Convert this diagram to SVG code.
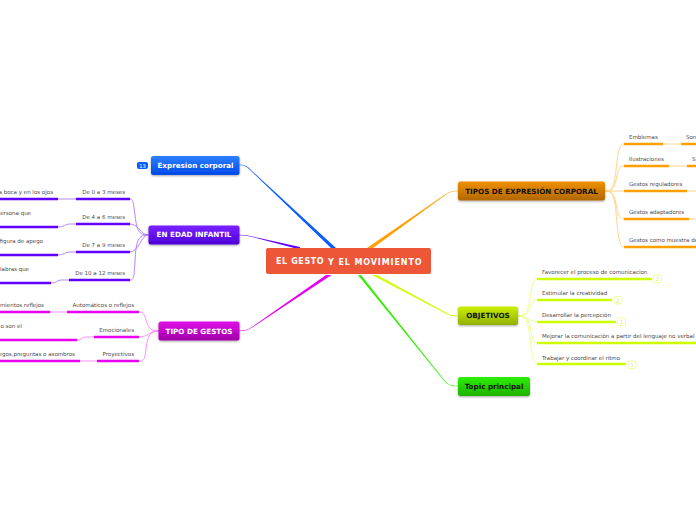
<svg xmlns="http://www.w3.org/2000/svg" width="696" height="520" viewBox="0 0 696 520">
<style>
text{font-family:"DejaVu Sans","Liberation Sans",sans-serif}
.t{font-size:5.5px;fill:#4a4a4a}
.n{font-size:7.2px;font-weight:700;text-anchor:middle}
.m{font-size:8px;font-weight:700;fill:#fff;letter-spacing:.6px}
.w{fill:#fff}.k{fill:#111}
.c{fill:none;stroke-width:.9;stroke-linecap:round}
.u{fill:none;stroke-width:2.6}
.pur{stroke:#6000ff}.mag{stroke:#e800f0}.ora{stroke:#ff9f00}.lim{stroke:#ccff00}
.lp{stroke:#a878ff}.lm{stroke:#ff80ff}.lo{stroke:#ffcf80}.ll{stroke:#e6ff80}
.b{fill:#fff;stroke:#eaff90;stroke-width:1}
.bt{font-size:5.5px;fill:#d8e870;text-anchor:middle}
</style>
<defs>
<linearGradient id="gb" x1="0" y1="0" x2="0" y2="1"><stop offset="0" stop-color="#2c80ff"/><stop offset="1" stop-color="#0049e8"/></linearGradient>
<linearGradient id="gp" x1="0" y1="0" x2="0" y2="1"><stop offset="0" stop-color="#7a22ff"/><stop offset="1" stop-color="#4d00d8"/></linearGradient>
<linearGradient id="gm" x1="0" y1="0" x2="0" y2="1"><stop offset="0" stop-color="#e010e8"/><stop offset="1" stop-color="#a000a8"/></linearGradient>
<linearGradient id="go" x1="0" y1="0" x2="0" y2="1"><stop offset="0" stop-color="#f09000"/><stop offset="1" stop-color="#b06800"/></linearGradient>
<linearGradient id="gl" x1="0" y1="0" x2="0" y2="1"><stop offset="0" stop-color="#ccf000"/><stop offset="1" stop-color="#90b000"/></linearGradient>
<linearGradient id="gg" x1="0" y1="0" x2="0" y2="1"><stop offset="0" stop-color="#2cf000"/><stop offset="1" stop-color="#20b000"/></linearGradient>
<filter id="s" x="-10%" y="-20%" width="120%" height="150%"><feDropShadow dx="0" dy="1" stdDeviation="0.8" flood-color="#000" flood-opacity=".35"/></filter>
</defs>
<g id="connectors">
<path fill="#0b5cff" d="M239 164.800C246 164.800 247 166 252 171L336 248H331L251.600 171.500C247 167 246 165.200 239 165.200Z"/>
<path fill="#6000ff" d="M239 234.800C246 234.800 250 236 258 237.800L300 247V248.500H296L258 238.400C250 236.500 246 235.200 239 235.200Z"/>
<path fill="#e800f0" d="M239 330.800C246 330.800 249 329 254 325.600L326 275H331.500L254.500 326C249 329.600 246 331.200 239 331.200Z"/>
<path fill="#ff9f00" d="M458 190.800C451 190.800 449 192 445 194.600L367 248H373L445.400 195C449 192.400 451 191.200 458 191.200Z"/>
<path fill="#ccff00" d="M458 315.700C451 315.700 449 314.300 445 312.100L377 275H372L444.600 312.900C449 315.200 451 316.300 458 316.300Z"/>
<path fill="#33ee00" d="M458 385.800C451 385.800 449 385 445 381L361 275H358L444.500 381.400C449 385.600 451 386.200 458 386.200Z"/>

<path class="c lp" d="M148 235C140 235 137 233 135 215C133 200 133 199 130 199"/>
<path class="c lp" d="M148 235C141 235 139 224 130 224"/>
<path class="c lp" d="M148 235C141 235 139 252 130 252"/>
<path class="c lp" d="M148 235C138 235 136 240 135 262C134 280 133 280 130 280"/>
<path class="c lp" d="M76 199H58"/>
<path class="c lp" d="M76 224H70C65 224 64 227 58 227"/>
<path class="c lp" d="M76 252H70C65 252 64 255 58 255"/>
<path class="c lp" d="M69 280H62C57 280 57 283 51 283"/>
<path class="u pur" d="M76 199H130M76 224H130M76 252H130M69 280H130M0 199H58M0 227H58M0 255H58M0 283H51"/>

<path class="c lm" d="M158 331C150 331 148 327 146 320C144 313 143 312 139 312"/>
<path class="c lm" d="M158 331C150 331 148 337 139 337"/>
<path class="c lm" d="M158 331C150 331 148 336 146 348C145 361 143 361 139 361"/>
<path class="c lm" d="M67 312H50"/>
<path class="c lm" d="M94 337H86C82 337 82 340 77 340"/>
<path class="c lm" d="M97 361H80"/>
<path class="u mag" d="M67 312H139M94 337H139M97 361H139M0 312H50M0 340H77M0 361H80"/>

<path class="c lo" d="M605 191C613 191 614 186 616 170C618 149 620 144 624 144"/>
<path class="c lo" d="M605 191C613 191 614 188 616 180C618 168 620 166 624 166"/>
<path class="c lo" d="M605 191H624"/>
<path class="c lo" d="M605 191C613 191 614 194 616 204C618 216 620 219 624 219"/>
<path class="c lo" d="M605 191C613 191 614 196 616 212C618 240 620 247 624 247"/>
<path class="c lo" d="M663 144H681M669 166H687M687 191H696M689 219H696"/>
<path class="u ora" d="M624 144H663M624 166H669M624 191H687M624 219H689M624 247H696M681 144H696M687 166H696"/>

<path class="c ll" d="M518 316C527 316 528 310 530 298C532 283 534 279 537 279"/>
<path class="c ll" d="M518 316C527 316 528 312 530 308C532 302 534 300 537 300"/>
<path class="c ll" d="M518 316C527 316 530 322 537 322"/>
<path class="c ll" d="M518 316C527 316 528 319 530 326C532 339 534 343 537 343"/>
<path class="c ll" d="M518 316C527 316 528 322 530 338C532 358 534 364 537 364"/>
<path class="u lim" d="M537 279H652M537 300H612M537 322H616M537 343H696M537 364H626"/>
</g>

<g id="central"><rect x="266" y="248" width="165" height="26" rx="2" fill="#ee5638"/><text x="276" y="263.500" class="m">EL GESTO</text><text x="328" y="265" class="m" style="letter-spacing:.9px">Y EL MOVIMIENTO</text></g>
<g id="expresion"><rect x="137" y="162" width="11" height="7" rx="2" fill="#0b5cff"/><text x="142.500" y="167.500" style="font-size:5px;text-anchor:middle" class="w">13</text><rect x="151" y="156" width="88.500" height="19" rx="2.500" fill="url(#gb)" filter="url(#s)"/><text x="195.500" y="168" class="n w">Expresion corporal</text></g>
<g id="infantil"><rect x="148.500" y="225.500" width="91" height="19" rx="2.500" fill="url(#gp)" filter="url(#s)"/><text x="194" y="237" class="n w">EN EDAD INFANTIL</text></g>
<g id="tipo-gestos"><rect x="158.500" y="321.500" width="81" height="19" rx="2.500" fill="url(#gm)" filter="url(#s)"/><text x="199" y="333.500" class="n w">TIPO DE GESTOS</text></g>
<g id="tipos"><rect x="458" y="181.500" width="147" height="19" rx="2.500" fill="url(#go)" filter="url(#s)"/><text x="531.500" y="194" class="n k">TIPOS DE EXPRESIÓN CORPORAL</text></g>
<g id="objetivos"><rect x="458" y="306.500" width="60" height="18.500" rx="2.500" fill="url(#gl)" filter="url(#s)"/><text x="488" y="318" class="n k">OBJETIVOS</text></g>
<g id="topic"><rect x="458" y="377" width="72" height="19" rx="2.500" fill="url(#gg)" filter="url(#s)"/><text x="494" y="389" class="n k">Topic principal</text></g>

<g id="infantil-items">
<text class="t" x="125" y="194" text-anchor="end">De 0 a 3 meses</text>
<text class="t" x="125" y="219" text-anchor="end">De 4 a 6 meses</text>
<text class="t" x="125" y="247" text-anchor="end">De 7 a 9 meses</text>
<text class="t" x="125" y="275" text-anchor="end">De 10 a 12 meses</text>
<text class="t" x="53" y="194" text-anchor="end">a boca y en los ojos</text>
<text class="t" x="31" y="215" text-anchor="end">ersona que</text>
<text class="t" x="43" y="243" text-anchor="end">figura de apego</text>
<text class="t" x="29" y="271" text-anchor="end">labras que</text>
</g>
<g id="gestos-items">
<text class="t" x="134" y="307" text-anchor="end">Automáticos o reflejos</text>
<text class="t" x="134" y="332" text-anchor="end">Emocionales</text>
<text class="t" x="134" y="356" text-anchor="end">Proyectivos</text>
<text class="t" x="44" y="307" text-anchor="end">mientos reflejos</text>
<text class="t" x="22" y="328" text-anchor="end">o son el</text>
<text class="t" x="75" y="356" text-anchor="end">egos,preguntas o asombros</text>
</g>
<g id="tipos-items">
<text class="t" x="629" y="139">Emblemas</text><text class="t" x="686" y="139">Son</text>
<text class="t" x="629" y="161">Ilustraciones</text><text class="t" x="692" y="161">S</text>
<text class="t" x="629" y="186">Gestos reguladores</text>
<text class="t" x="629" y="214">Gestos adaptadores</text>
<text class="t" x="629" y="242">Gestos como muestra de</text>
</g>
<g id="objetivos-items">
<text class="t" x="542" y="274">Favorecer el proceso de comunicacion</text>
<text class="t" x="542" y="295">Estimular la creatividad</text>
<text class="t" x="542" y="317">Desarrollar la percepción</text>
<text class="t" x="542" y="338">Mejorar la comunicación a partir del lenguaje no verbal</text>
<text class="t" x="542" y="359.500">Trabajar y coordinar el ritmo</text>
<rect class="b" x="653.500" y="275" width="8" height="7.500" rx="2"/><text class="bt" x="657.500" y="281">2</text>
<rect class="b" x="614" y="296.500" width="8" height="7.500" rx="2"/><text class="bt" x="618" y="302.500">2</text>
<rect class="b" x="617.500" y="318" width="8" height="7.500" rx="2"/><text class="bt" x="621.500" y="324">1</text>
<rect class="b" x="628" y="361" width="8" height="7.500" rx="2"/><text class="bt" x="632" y="367">1</text>
</g>
</svg>
